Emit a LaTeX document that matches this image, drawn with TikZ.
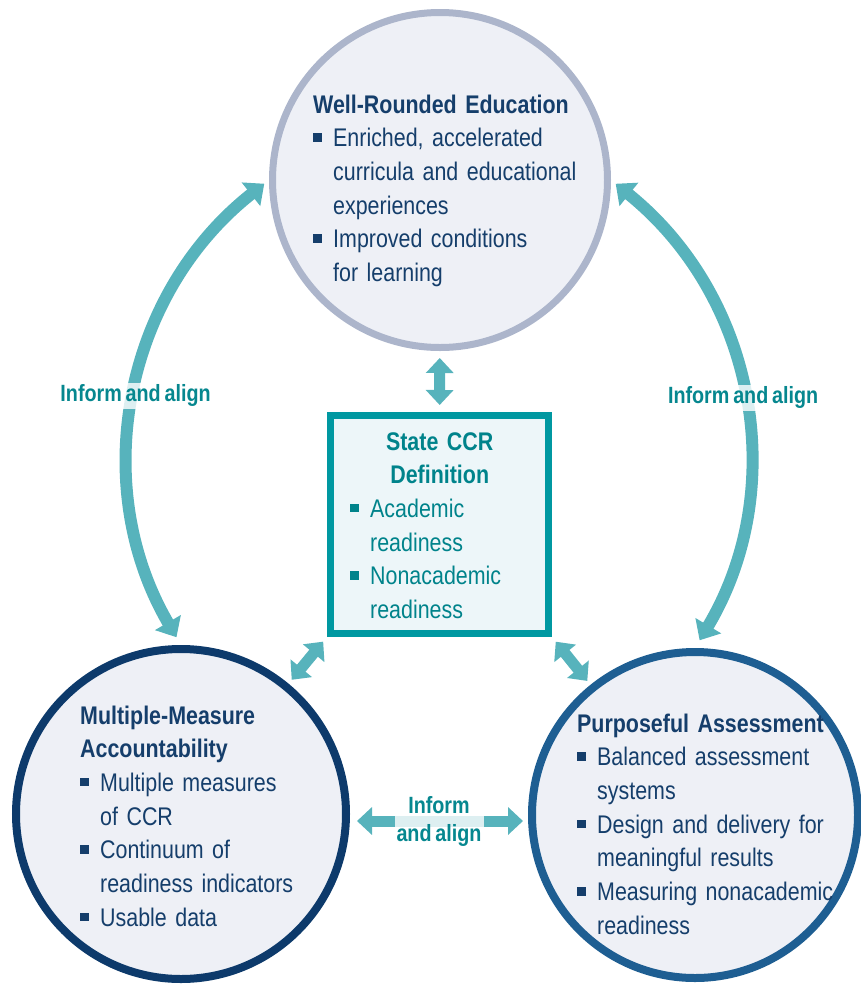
\documentclass[tikz,border=0pt]{standalone}
\usepackage{fontspec}
\setmainfont{Liberation Sans}[FakeStretch=0.84,WordSpace=0.7]
\usepackage{tikz}
\usetikzlibrary{arrows.meta}
\usetikzlibrary{positioning}
\definecolor{navytext}{HTML}{153E6B}
\definecolor{topring}{HTML}{ACB5CB}
\definecolor{accring}{HTML}{0D3A6B}
\definecolor{assring}{HTML}{1E5E92}
\definecolor{circfill}{HTML}{EEF0F6}
\definecolor{ccrframe}{HTML}{0098A1}
\definecolor{ccrfill}{HTML}{EDF6F9}
\definecolor{ccrtext}{HTML}{00838B}
\definecolor{linkc}{HTML}{57B3BC}
\definecolor{labelc}{HTML}{06878F}
\newcommand*{\blt}{\makebox[20pt][l]{\rule[5pt]{8.5pt}{8.5pt}}}
\newcommand*{\ind}{\hspace*{20pt}}
\tikzset{
    area/.style = {circle,inner sep=0,fill=circfill},
    areatext/.style = {inner sep=0,anchor=base west,align=left,text=navytext,
        font=\fontsize{25.5}{33.7}\selectfont},
    link/.style = {draw=linkc,line width=11pt,
        {Triangle[width=27pt,length=15pt]}-{Triangle[width=27pt,length=15pt]}},
    widelink/.style = {draw=linkc,line width=12pt,
        {Triangle[width=29pt,length=17pt]}-{Triangle[width=29pt,length=17pt]}},
    linklabel/.style = {fill=white,fill opacity=0.8,text opacity=1,text=labelc,
        font=\bfseries\fontsize{23.5}{28}\selectfont,align=center,inner sep=2pt}
}

\begin{document}
\begin{tikzpicture}[x=1pt,y=1pt]
        \useasboundingbox (0,0) rectangle (861,-986);
        % Areas
        \node[area,draw=topring,line width=7pt,minimum size=335pt] (wre) at (440,-180) {};
        \node[area,draw=accring,line width=8pt,minimum size=330pt] (mma) at (181,-814) {};
        \node[area,draw=assring,line width=8pt,minimum size=326pt] (pa) at (695,-815) {};
        % CCR definition
        \node[draw=ccrframe,fill=ccrfill,line width=7pt,
            minimum width=218pt,minimum height=218pt] (ccr) at (439.5,-524.5) {};
        % Texts
        \node[areatext,text width=280pt] (wretxt) at (313,-113)
            {\textbf{Well-Rounded Education}\\\blt Enriched, accelerated\\\ind curricula and educational\\\ind experiences\\\blt Improved conditions\\\ind for learning};
        \node[areatext,text width=260pt] (mmatxt) at (80,-724)
            {\textbf{Multiple-Measure}\\\textbf{Accountability}\\\blt Multiple measures\\\ind of CCR\\\blt Continuum of\\\ind readiness indicators\\\blt Usable data};
        \node[areatext,text width=270pt] (patxt) at (577,-732)
            {\textbf{Purposeful Assessment}\\\blt Balanced assessment\\\ind systems\\\blt Design and delivery for\\\ind meaningful results\\\blt Measuring nonacademic\\\ind readiness};
        \node[areatext,text width=179pt,text=ccrtext] (ccrtxt) at (350,-450)
            {{\centering\bfseries State CCR\\Definition\par}\blt Academic\\\ind readiness\\\blt Nonacademic\\\ind readiness};
        % Links
        \draw[link,shorten <=7pt,shorten >=7pt] (wre) -- (ccr);
        \draw[link,shorten <=6pt,shorten >=5pt] (ccr.south west) -- (mma);
        \draw[link,shorten <=6pt,shorten >=5pt] (ccr.south east) -- (pa);
        \draw[link,shorten <=7pt,shorten >=5pt] ([yshift=-7pt]mma.east)
            -- node[linklabel] (inf3) {Inform\\and align} ([yshift=-6pt]pa.west);
        % Inform and align
        \draw[widelink,shorten <=6pt,shorten >=9pt] (wre.west)
            to[bend right=41] node[linklabel] (inf1) {Inform and align} (mma.north);
        \draw[widelink,shorten <=6pt,shorten >=9pt] (wre.east)
            to[bend left=41] node[linklabel] (inf2) {Inform and align} (pa.north);
    \end{tikzpicture}
\end{document}
